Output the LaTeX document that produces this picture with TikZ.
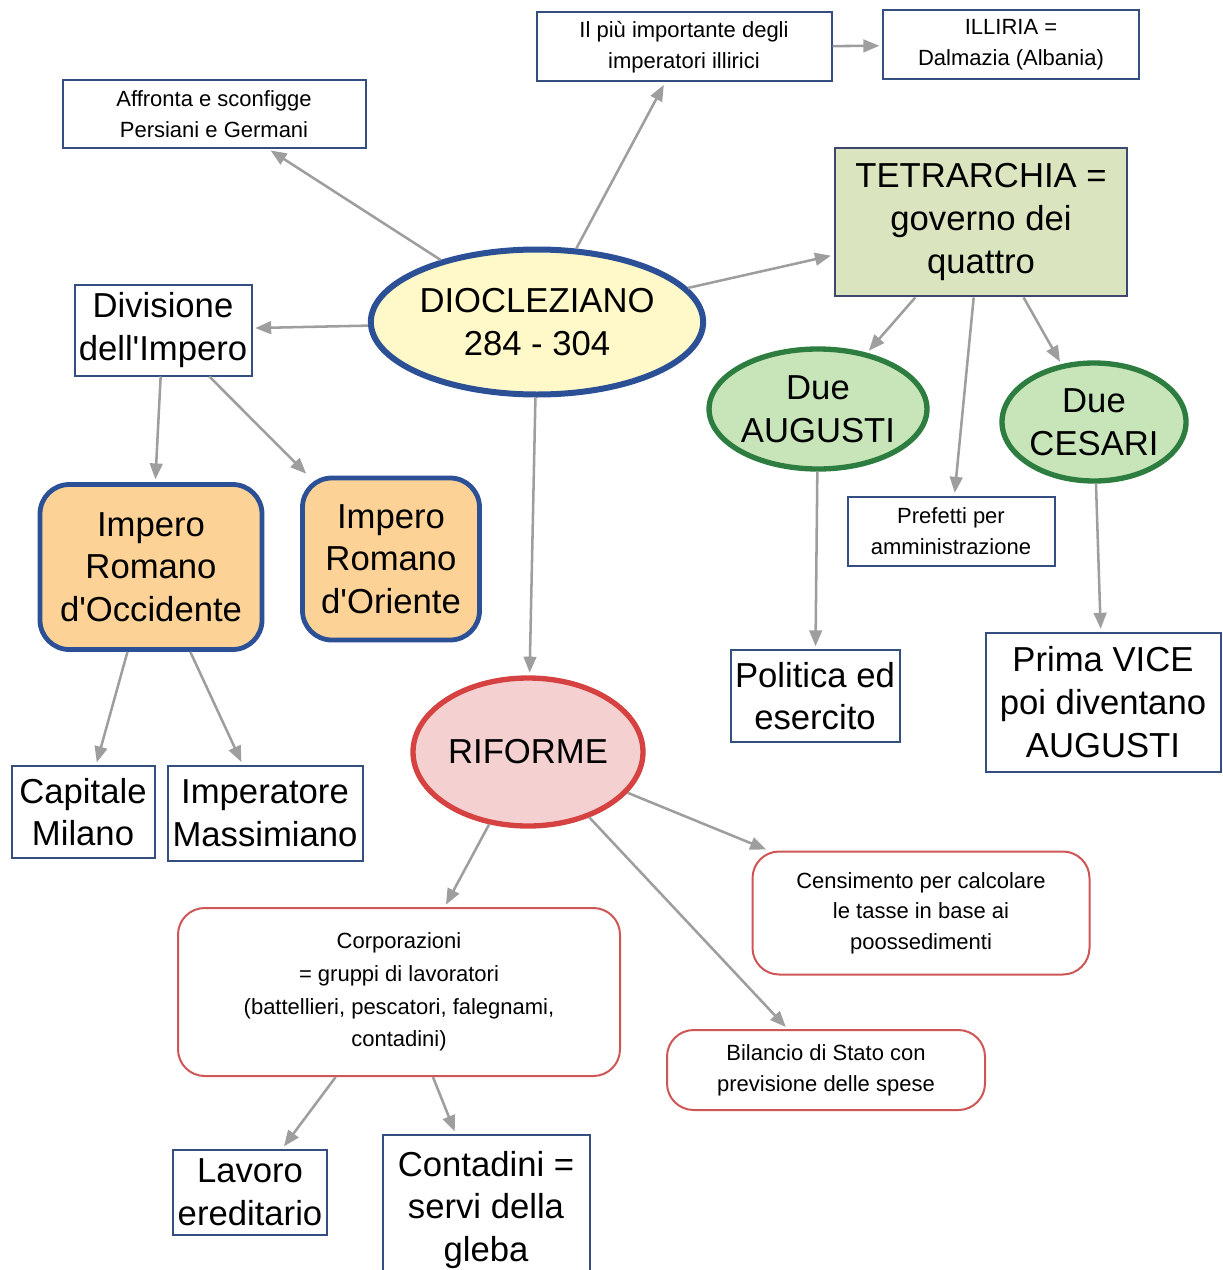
\documentclass[tikz,border=0pt]{standalone}
\usepackage{fontspec}
\setmainfont{Liberation Sans}
\usetikzlibrary{arrows.meta,shapes.geometric}

\definecolor{linkgray}{RGB}{158,158,158}
\definecolor{boxblue}{RGB}{52,78,130}
\definecolor{thickblue}{RGB}{44,80,150}
\definecolor{dioyellow}{RGB}{255,248,200}
\definecolor{tetragreen}{RGB}{218,228,190}
\definecolor{tetraedge}{RGB}{62,72,110}
\definecolor{impfill}{RGB}{252,210,150}
\definecolor{augfill}{RGB}{200,228,185}
\definecolor{augedge}{RGB}{45,125,65}
\definecolor{rifill}{RGB}{244,208,208}
\definecolor{rifedge}{RGB}{214,66,66}
\definecolor{redthin}{RGB}{206,86,86}

\newdimen\pxu \pxu=0.75pt

\tikzset{every picture/.style={line width=0.75pt}}
\tikzset{
  bigtxt/.style={font=\fontsize{26}{32}\selectfont},
  smalltxt/.style={font=\fontsize{16.5}{23}\selectfont},
  plainbox/.style={rectangle, draw=boxblue, line width=1.5pt, fill=white, align=center, inner sep=0pt},
  impbox/.style={rectangle, rounded corners=22pt, draw=thickblue, line width=3.6pt, fill=impfill, align=center, inner sep=0pt, bigtxt},
  redbox/.style={rectangle, rounded corners=20pt, draw=redthin, line width=1.5pt, fill=white, align=center, inner sep=0pt, smalltxt},
  oval/.style={ellipse, align=center, inner sep=0pt, bigtxt},
  link/.style={draw=linkgray, line width=1.9pt, shorten >=2pt, -{Triangle[length=12pt,width=9.5pt]}}
}

\begin{document}
\begin{tikzpicture}[x=0.75pt,y=0.75pt,yscale=-1,xscale=1]
  \useasboundingbox (0,0) rectangle (1223,1270);

  % centre
  \node [oval, draw=thickblue, line width=4.5pt, fill=dioyellow, minimum width=330\pxu, minimum height=145\pxu] (dio) at (537,322) {DIOCLEZIANO\\284 - 304};

  % top boxes
  \node [plainbox, smalltxt, minimum width=303\pxu, minimum height=68\pxu] (affronta) at (214,114) {Affronta e sconfigge\\Persiani e Germani};
  \node [plainbox, smalltxt, minimum width=295\pxu, minimum height=69\pxu] (illirici) at (684,47) {Il più importante degli\\imperatori illirici};
  \node [plainbox, smalltxt, minimum width=256\pxu, minimum height=69\pxu] (illiria) at (1011,45) {ILLIRIA =\\Dalmazia (Albania)};

  % tetrarchia
  \node [rectangle, draw=tetraedge, line width=2.2pt, fill=tetragreen, align=center, inner sep=0pt, bigtxt, minimum width=292\pxu, minimum height=148\pxu] (tetra) at (981,222) {TETRARCHIA =\\governo dei\\quattro};
  \node [oval, draw=augedge, line width=4pt, fill=augfill, minimum width=213\pxu, minimum height=120\pxu] (augusti) at (818,409) {Due\\AUGUSTI};
  \node [oval, draw=augedge, line width=4pt, fill=augfill, minimum width=184\pxu, minimum height=118\pxu] (cesari) at (1094,422) {Due\\CESARI};
  \node [plainbox, smalltxt, minimum width=207\pxu, minimum height=69\pxu] (prefetti) at (951,531) {Prefetti per\\amministrazione};
  \node [plainbox, bigtxt, minimum width=169\pxu, minimum height=92\pxu] (politica) at (815,696) {Politica ed\\esercito};
  \node [plainbox, bigtxt, minimum width=235\pxu, minimum height=139\pxu] (prima) at (1103,702) {Prima VICE\\poi diventano\\AUGUSTI};

  % divisione
  \node [plainbox, bigtxt, minimum width=177\pxu, minimum height=91\pxu] (divisione) at (163,330) {Divisione\\dell\textquotesingle Impero};
  \node [impbox, minimum width=222\pxu, minimum height=165\pxu] (occidente) at (151,567) {Impero\\Romano\\d\textquotesingle Occidente};
  \node [impbox, minimum width=177\pxu, minimum height=162\pxu] (oriente) at (391,559) {Impero\\Romano\\d\textquotesingle Oriente};
  \node [plainbox, bigtxt, minimum width=143\pxu, minimum height=92\pxu] (capitale) at (83,812) {Capitale\\Milano};
  \node [plainbox, bigtxt, minimum width=195\pxu, minimum height=95\pxu] (massimiano) at (265,813) {Imperatore\\Massimiano};

  % riforme
  \node [oval, draw=rifedge, line width=4pt, fill=rifill, minimum width=230\pxu, minimum height=148\pxu] (riforme) at (528,752) {RIFORME};
  \node [redbox, minimum width=337\pxu, minimum height=123\pxu] (censimento) at (921,913) {Censimento per calcolare\\le tasse in base ai\\poossedimenti};
  \node [redbox, font=\fontsize{16.5}{24.5}\selectfont, minimum width=442\pxu, minimum height=168\pxu] (corporazioni) at (399,992) {Corporazioni\\= gruppi di lavoratori\\(battellieri, pescatori, falegnami,\\contadini)};
  \node [redbox, minimum width=318\pxu, minimum height=80\pxu] (bilancio) at (826,1070) {Bilancio di Stato con\\previsione delle spese};
  \node [plainbox, bigtxt, minimum width=154\pxu, minimum height=85\pxu] (lavoro) at (250,1192) {Lavoro\\ereditario};
  \node [plainbox, bigtxt, minimum width=207\pxu, minimum height=150\pxu] (contadini) at (486,1210) {Contadini =\\servi della\\gleba};

  % connectors
  \draw [link] (dio) -- (affronta);
  \draw [link] (dio) -- (illirici);
  \draw [link] (illirici) -- (illiria);
  \draw [link] (dio) -- (tetra);
  \draw [link] (dio) -- (divisione);
  \draw [link] (dio) -- (riforme);
  \draw [link] (tetra) -- (augusti);
  \draw [link] (tetra) -- (prefetti);
  \draw [link] (tetra) -- (cesari);
  \draw [link] (augusti) -- (politica);
  \draw [link] (cesari) -- (prima);
  \draw [link] (divisione) -- (occidente);
  \draw [link] (divisione) -- (oriente);
  \draw [link] (occidente) -- (capitale);
  \draw [link] (occidente) -- (massimiano);
  \draw [link] (riforme) -- (corporazioni);
  \draw [link] (riforme) -- (censimento);
  \draw [link] (riforme) -- (bilancio);
  \draw [link] (corporazioni) -- (lavoro);
  \draw [link] (corporazioni) -- (contadini);
\end{tikzpicture}
\end{document}
